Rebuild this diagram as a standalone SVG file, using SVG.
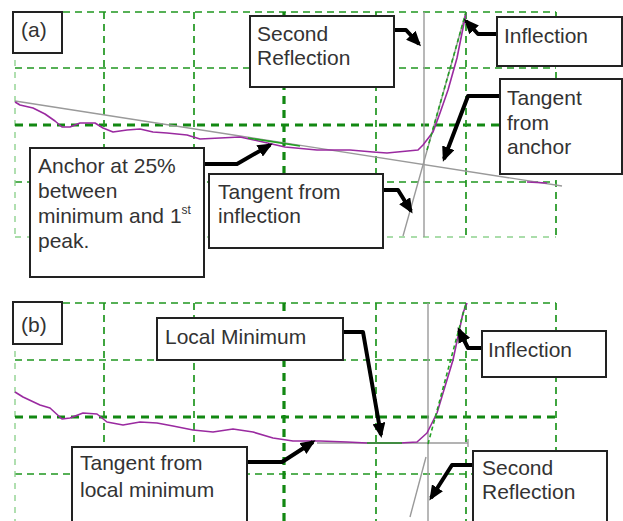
<svg xmlns="http://www.w3.org/2000/svg" width="623" height="521" viewBox="0 0 623 521">
<defs>
<style>
.g{stroke:#1f961f;stroke-width:1.7;stroke-dasharray:7 5;fill:none}
.gt{stroke:#128812;stroke-width:3.2;stroke-dasharray:8 6;fill:none}
.gl{stroke:#8fd28f;stroke-width:1.4;stroke-dasharray:6 6;fill:none}
.gray{stroke:#9a9a9a;stroke-width:1.4;fill:none}
.pur{stroke:#9a2aa0;stroke-width:1.6;fill:none;stroke-linejoin:round}
.gs{stroke:#22a022;stroke-width:1.6;fill:none}
.gd{stroke:#22a022;stroke-width:1.6;stroke-dasharray:4 3;fill:none}
.box{fill:#fff;stroke:#222;stroke-width:2}
.t{font-family:"Liberation Sans",Arial,sans-serif;font-size:21px;fill:#333}
.arr{stroke:#000;stroke-width:4;fill:none;stroke-linejoin:round;marker-end:url(#ah)}
</style>
<marker id="ah" markerUnits="userSpaceOnUse" markerWidth="15" markerHeight="13" refX="12" refY="6.5" orient="auto">
<path d="M0,0 L15,6.5 L0,13 z" fill="#000"/>
</marker>
</defs>

<g id="grid-a">
<path class="g" d="M15,12H556 M15,68H556 M15,182H556"/>
<path class="gl" d="M15,237H556 M15,12V237"/>
<path class="gt" d="M15,125H556 M284,12V237"/>
<path class="g" d="M104,12V237 M194,12V237 M376,12V237 M466,12V237 M556,12V237"/>
</g>
<g id="grid-b">
<path class="g" d="M15,303H556 M15,360H556 M15,474H556"/>
<path class="gl" d="M15,303V521"/>
<path class="gt" d="M15,417H556 M284,303V521"/>
<path class="g" d="M104,303V521 M194,303V521 M376,303V521 M466,303V521 M556,303V521"/>
</g>

<g id="plot-a">
<path class="gray" d="M424,12V237"/>
<path class="gray" d="M15,101L562,186"/>
<path class="gray" d="M403,236L466,12"/>
<path class="pur" d="M15,102 L20,105 L33,108 L45,114 L55,121 L62,127 L70,127 L80,123 L95,123 L103,128 L113,132 L127,130 L140,129 L153,132 L167,133 L187,135 L200,139 L240,137 L263,142 L285,147 L317,150 L350,150 L373,152 L387,153 L418,150 L423,145 L433,132 L440,113 L448,90 L457,58 L462,33 L466,13"/>
<path class="pur" d="M527,182L547,183"/>
<path class="gs" d="M248,138L300,146"/>
<path class="gd" d="M427,150L466,12"/>
</g>

<g id="plot-b">
<path class="gray" d="M428,303V521"/>
<path class="gray" d="M317,443H468 M468,439V447"/>
<path class="gray" d="M410,517L426,457"/>
<path class="pur" d="M15,392 L23,397 L40,405 L50,408 L62,419 L70,418 L83,413 L97,414 L107,422 L123,425 L140,422 L157,423 L173,426 L193,430 L213,432 L233,429 L253,432 L273,438 L293,441 L320,441 L347,442 L367,443 L400,443 L417,442 L427,433 L437,413 L443,393 L453,360 L460,327 L463,313 L467,303"/>
<path class="gs" d="M367,443H402"/>
<path class="gd" d="M428,444L466,303"/>
</g>

<g id="connectors">
<path class="arr" d="M204,164 L237,164 L270,145"/>
<path class="arr" d="M394,30 L406,30 L419,44"/>
<path class="arr" d="M498,34 L478,34 L466,21"/>
<path class="arr" d="M500,96 L468,96 L444,159"/>
<path class="arr" d="M383,190 L398,190 L411,211"/>
<path class="arr" d="M343,332 L363,332 L381,435"/>
<path class="arr" d="M482,348 L468,348 L459,330"/>
<path class="arr" d="M474,465 L452,465 L431,498"/>
<path class="arr" d="M247,462 L282,462 L313,442"/>
</g>

<g id="label-a">
<rect class="box" x="13" y="12" width="49" height="41"/>
<text class="t" x="21" y="37">(a)</text>
</g>
<g id="node-second-reflection-a">
<rect class="box" x="250" y="16" width="144" height="71"/>
<text class="t" x="257" y="41">Second</text>
<text class="t" x="257" y="65">Reflection</text>
</g>
<g id="node-inflection-a">
<rect class="box" x="497" y="17" width="125" height="49"/>
<text class="t" x="504" y="43">Inflection</text>
</g>
<g id="node-tangent-anchor">
<rect class="box" x="500" y="79" width="122" height="95"/>
<text class="t" x="507" y="105">Tangent</text>
<text class="t" x="507" y="130">from</text>
<text class="t" x="507" y="154">anchor</text>
</g>
<g id="node-anchor">
<rect class="box" x="30" y="148" width="174" height="129"/>
<text class="t" x="38" y="173">Anchor at 25%</text>
<text class="t" x="38" y="198">between</text>
<text class="t" x="38" y="223">minimum and 1<tspan font-size="12" dy="-9">st</tspan></text>
<text class="t" x="38" y="248">peak.</text>
</g>
<g id="node-tangent-inflection">
<rect class="box" x="209" y="174" width="174" height="74"/>
<text class="t" x="218" y="199">Tangent from</text>
<text class="t" x="218" y="223">inflection</text>
</g>

<g id="label-b">
<rect class="box" x="13" y="302" width="49" height="42"/>
<text class="t" x="21" y="332">(b)</text>
</g>
<g id="node-local-minimum">
<rect class="box" x="157" y="318" width="186" height="42"/>
<text class="t" x="165" y="344">Local Minimum</text>
</g>
<g id="node-inflection-b">
<rect class="box" x="482" y="331" width="124" height="46"/>
<text class="t" x="488" y="357">Inflection</text>
</g>
<g id="node-second-reflection-b">
<rect class="box" x="473" y="451" width="134" height="80"/>
<text class="t" x="482" y="475">Second</text>
<text class="t" x="482" y="499">Reflection</text>
</g>
<g id="node-tangent-local-min">
<rect class="box" x="72" y="447" width="175" height="84"/>
<text class="t" x="80" y="470">Tangent from</text>
<text class="t" x="80" y="497">local minimum</text>
</g>
</svg>
